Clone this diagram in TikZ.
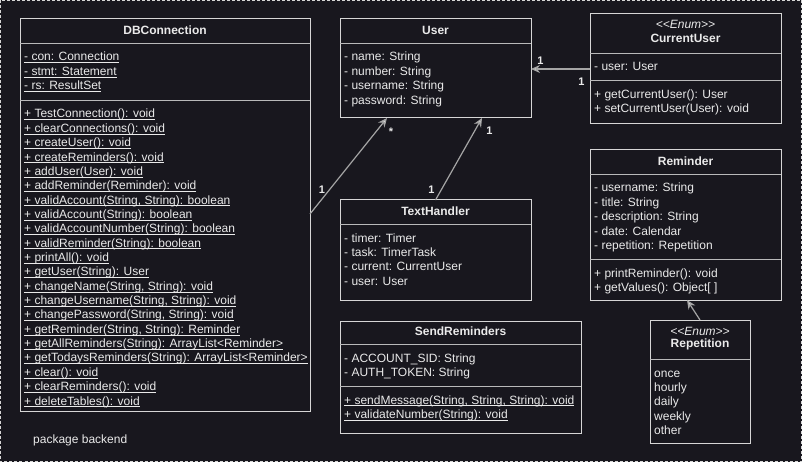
\documentclass[tikz,border=0pt]{standalone}
\usepackage{fontspec}
\setmainfont{Liberation Sans}
\usetikzlibrary{arrows.meta}

\definecolor{bg}{RGB}{24,23,30}
\definecolor{ink}{RGB}{234,234,234}
\definecolor{edge}{RGB}{165,165,165}
\definecolor{frame}{RGB}{214,214,214}

% underline drawn a fixed distance below the baseline
\newcommand\myul[1]{\setbox0\hbox{#1}\rlap{\vrule height -1.3pt depth 2.1pt width \wd0}\box0}

\tikzset{
  classbox/.style={draw=frame, line width=1pt, fill=bg, inner sep=0pt, outer sep=0pt, anchor=north west},
  divider/.style={draw=frame!85!bg, line width=0.9pt},
  title/.style={font=\bfseries\fontsize{12}{14.4}\selectfont, text=ink, inner sep=0pt},
  stereo/.style={font=\itshape\fontsize{12}{14.4}\selectfont, text=ink, inner sep=0pt},
  row/.style={font=\fontsize{12}{14.4}\selectfont, text=ink, inner sep=0pt, anchor=base west},
  assoc/.style={draw=edge, line width=1.2pt, -{Stealth[length=9pt,width=8pt,fill=ink]}},
  mult/.style={font=\bfseries\fontsize{11}{13}\selectfont, text=ink, inner sep=0pt},
}

\begin{document}
\begin{tikzpicture}[x=1pt, y=-1pt]
\useasboundingbox (0,0) rectangle (802,462);
\fill[bg] (0,0) rectangle (802,462);
\draw[frame, line width=0.8pt, dash pattern=on 3pt off 2pt] (0.5,0.5) rectangle (801.5,461.5);

% ---------- DBConnection ----------
\node[classbox, minimum width=290, minimum height=392] (db) at (20,19) {};
\draw[divider] (db.west |- 0,43) -- (db.east |- 0,43);
\draw[divider] (db.west |- 0,100) -- (db.east |- 0,100);
\node[title] (db-t) at (165,30) {DBConnection};
\foreach [count=\i] \t in {{- con: Connection},{- stmt: Statement},{- rs: ResultSet}}
  \node[row, name=db-a-\i] at (24,{61+(\i-1)*14.4}) {\myul{\t}};
\foreach [count=\i] \t in {
  {+ TestConnection(): void},
  {+ clearConnections(): void},
  {+ createUser(): void},
  {+ createReminders(): void},
  {+ addUser(User): void},
  {+ addReminder(Reminder): void},
  {+ validAccount(String, String): boolean},
  {+ validAccount(String): boolean},
  {+ validAccountNumber(String): boolean},
  {+ validReminder(String): boolean},
  {+ printAll(): void},
  {+ getUser(String): User},
  {+ changeName(String, String): void},
  {+ changeUsername(String, String): void},
  {+ changePassword(String, String): void},
  {+ getReminder(String, String): Reminder},
  {+ getAllReminders(String): ArrayList<Reminder>},
  {+ getTodaysReminders(String): ArrayList<Reminder>},
  {+ clear(): void},
  {+ clearReminders(): void},
  {+ deleteTables(): void}}
  \node[row, name=db-m-\i] at (24,{118+(\i-1)*14.35}) {\myul{\t}};

% ---------- User ----------
\node[classbox, minimum width=191, minimum height=99] (user) at (340,19) {};
\draw[divider] (user.west |- 0,43) -- (user.east |- 0,43);
\node[title] (user-t) at (435.5,30) {User};
\foreach [count=\i] \t in {{- name: String},{- number: String},{- username: String},{- password: String}}
  \node[row, name=user-a-\i] at (344,{61+(\i-1)*14.4}) {\t};

% ---------- TextHandler ----------
\node[classbox, minimum width=191, minimum height=100] (th) at (340,200) {};
\draw[divider] (th.west |- 0,224) -- (th.east |- 0,224);
\node[title] (th-t) at (435.5,211.5) {TextHandler};
\foreach [count=\i] \t in {{- timer: Timer},{- task: TimerTask},{- current: CurrentUser},{- user: User}}
  \node[row, name=th-a-\i] at (344,{242+(\i-1)*14.4}) {\t};

% ---------- SendReminders ----------
\node[classbox, minimum width=241, minimum height=112] (sr) at (340,321) {};
\draw[divider] (sr.west |- 0,344) -- (sr.east |- 0,344);
\draw[divider] (sr.west |- 0,386) -- (sr.east |- 0,386);
\node[title] (sr-t) at (460.5,331) {SendReminders};
\foreach [count=\i] \t in {{- ACCOUNT\_SID: String},{- AUTH\_TOKEN: String}}
  \node[row, name=sr-a-\i] at (344,{362+(\i-1)*14.4}) {\t};
\foreach [count=\i] \t in {{+ sendMessage(String, String, String): void},{+ validateNumber(String): void}}
  \node[row, name=sr-m-\i] at (344,{404+(\i-1)*14.4}) {\myul{\t}};

% ---------- CurrentUser ----------
\node[classbox, minimum width=191, minimum height=110] (cu) at (590,14) {};
\draw[divider] (cu.west |- 0,53) -- (cu.east |- 0,53);
\draw[divider] (cu.west |- 0,80) -- (cu.east |- 0,80);
\node[stereo] (cu-s) at (685.5,24.5) {<{}<Enum>{}>};
\node[title] (cu-t) at (685.5,38.5) {CurrentUser};
\node[row] (cu-a-1) at (594,71) {- user: User};
\foreach [count=\i] \t in {{+ getCurrentUser(): User},{+ setCurrentUser(User): void}}
  \node[row, name=cu-m-\i] at (594,{98.5+(\i-1)*14.4}) {\t};

% ---------- Reminder ----------
\node[classbox, minimum width=191, minimum height=150] (rem) at (590,150) {};
\draw[divider] (rem.west |- 0,174) -- (rem.east |- 0,174);
\draw[divider] (rem.west |- 0,259) -- (rem.east |- 0,259);
\node[title] (rem-t) at (685.5,161) {Reminder};
\foreach [count=\i] \t in {{- username: String},{- title: String},{- description: String},{- date: Calendar},{- repetition: Repetition}}
  \node[row, name=rem-a-\i] at (594,{192+(\i-1)*14.4}) {\t};
\foreach [count=\i] \t in {{+ printReminder(): void},{+ getValues(): Object[ ]}}
  \node[row, name=rem-m-\i] at (594,{277+(\i-1)*14.4}) {\t};

% ---------- Repetition ----------
\node[classbox, minimum width=100, minimum height=123] (rep) at (650,320) {};
\draw[divider] (rep.west |- 0,359) -- (rep.east |- 0,359);
\node[stereo] (rep-s) at (700,331) {<{}<Enum>{}>};
\node[title] (rep-t) at (700,344.5) {Repetition};
\foreach [count=\i] \t in {once,hourly,daily,weekly,other}
  \node[row, name=rep-v-\i] at (654,{377+(\i-1)*14.4}) {\t};

% ---------- package label ----------
\node[row] (pkg) at (33,443) {package backend};

% ---------- associations ----------
\draw[assoc] (cu.west |- 0,69) -- (user.east |- 0,69);
\node[mult] (m1) at (540.5,60.5) {1};
\node[mult] (m2) at (581.5,81.5) {1};

\draw[assoc] (db.east |- 0,214) -- (user.south -| 387,0);
\node[mult] (m3) at (322,190) {1};
\node[mult] (m4) at (391,132) {*};

\draw[assoc] (th.north) -- (user.south -| 482,0);
\node[mult] (m5) at (431.5,190) {1};
\node[mult] (m6) at (489.5,131) {1};

\draw[assoc] (rep.north) -- (rem.south -| 687,0);
\end{tikzpicture}
\end{document}
